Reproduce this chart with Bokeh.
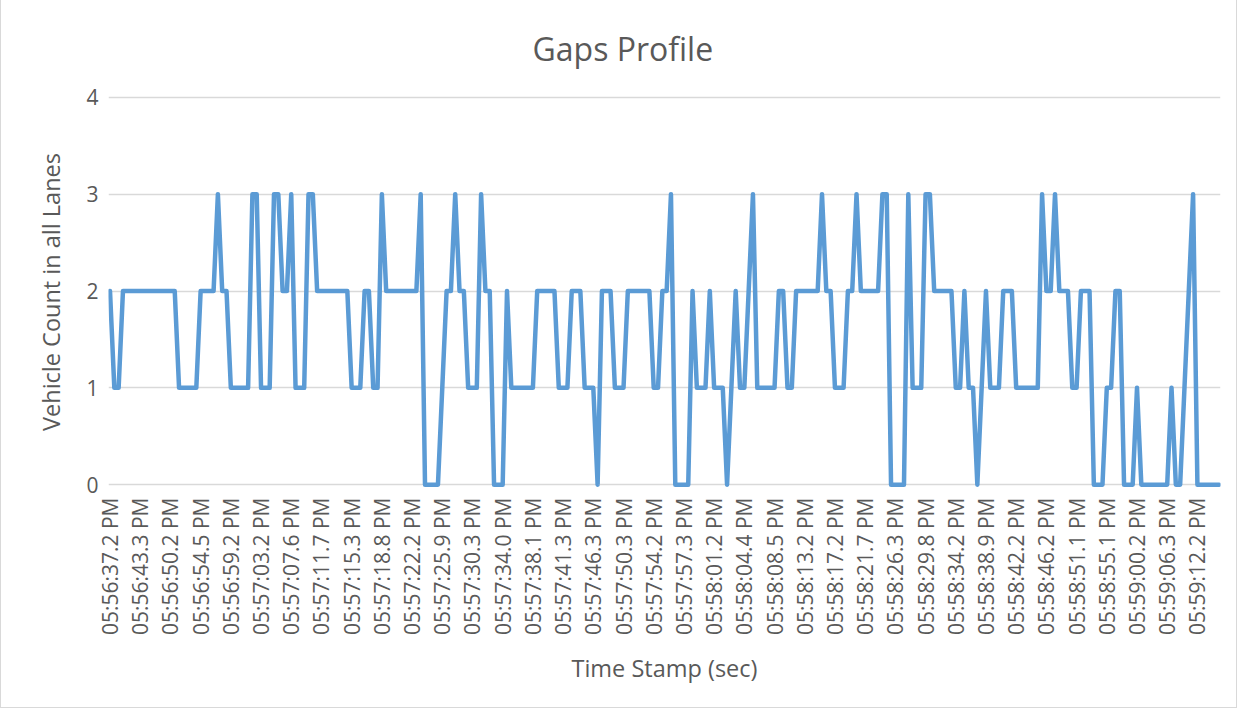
import math
from bokeh.plotting import figure
from bokeh.models import Range1d, FixedTicker
from bokeh.embed import file_html
from bokeh.resources import INLINE

tick_labels = [
    "05:56:37.2 PM", "05:56:43.3 PM", "05:56:50.2 PM", "05:56:54.5 PM", "05:56:59.2 PM",
    "05:57:03.2 PM", "05:57:07.6 PM", "05:57:11.7 PM", "05:57:15.3 PM", "05:57:18.8 PM",
    "05:57:22.2 PM", "05:57:25.9 PM", "05:57:30.3 PM", "05:57:34.0 PM", "05:57:38.1 PM",
    "05:57:41.3 PM", "05:57:46.3 PM", "05:57:50.3 PM", "05:57:54.2 PM", "05:57:57.3 PM",
    "05:58:01.2 PM", "05:58:04.4 PM", "05:58:08.5 PM", "05:58:13.2 PM", "05:58:17.2 PM",
    "05:58:21.7 PM", "05:58:26.3 PM", "05:58:29.8 PM", "05:58:34.2 PM", "05:58:38.9 PM",
    "05:58:42.2 PM", "05:58:46.2 PM", "05:58:51.1 PM", "05:58:55.1 PM", "05:59:00.2 PM",
    "05:59:06.3 PM", "05:59:12.2 PM",
]
label_every = 7

vehicle_counts = [
    2, 1, 1, 2, 2, 2, 2, 2, 2, 2,
    2, 2, 2, 2, 2, 2, 1, 1, 1, 1,
    1, 2, 2, 2, 2, 3, 2, 2, 1, 1,
    1, 1, 1, 3, 3, 1, 1, 1, 3, 3,
    2, 2, 3, 1, 1, 1, 3, 3, 2, 2,
    2, 2, 2, 2, 2, 2, 1, 1, 1, 2,
    2, 1, 1, 3, 2, 2, 2, 2, 2, 2,
    2, 2, 3, 0, 0, 0, 0, 1, 2, 2,
    3, 2, 2, 1, 1, 1, 3, 2, 2, 0,
    0, 0, 2, 1, 1, 1, 1, 1, 1, 2,
    2, 2, 2, 2, 1, 1, 1, 2, 2, 2,
    1, 1, 1, 0, 2, 2, 2, 1, 1, 1,
    2, 2, 2, 2, 2, 2, 1, 1, 2, 2,
    3, 0, 0, 0, 0, 2, 1, 1, 1, 2,
    1, 1, 1, 0, 1, 2, 1, 1, 2, 3,
    1, 1, 1, 1, 1, 2, 2, 1, 1, 2,
    2, 2, 2, 2, 2, 3, 2, 2, 1, 1,
    1, 2, 2, 3, 2, 2, 2, 2, 2, 3,
    3, 0, 0, 0, 0, 3, 1, 1, 1, 3,
    3, 2, 2, 2, 2, 2, 1, 1, 2, 1,
    1, 0, 1, 2, 1, 1, 1, 2, 2, 2,
    1, 1, 1, 1, 1, 1, 3, 2, 2, 3,
    2, 2, 2, 1, 1, 2, 2, 2, 0, 0,
    0, 1, 1, 2, 2, 0, 0, 0, 1, 0,
    0, 0, 0, 0, 0, 0, 1, 0, 0, 1,
    2, 3, 0, 0, 0, 0, 0, 0,
]

y_ticks = [0, 1, 2, 3, 4]
chart_title = "Gaps Profile"

x_index = list(range(len(vehicle_counts)))
tick_positions = [i * label_every for i in range(len(tick_labels))]

TEXT = "#595959"
GRID = "#D9D9D9"
FONT = "Open Sans"

p = figure(
    width=1237, height=711,
    x_range=Range1d(-0.35, len(vehicle_counts) - 1 + 0.35),
    y_range=Range1d(-0.05, 4.03),
    output_backend="svg", toolbar_location=None,
    min_border_left=107, min_border_right=18,
    min_border_top=96, min_border_bottom=220,
    title=chart_title,
)
p.styles = {"border": "1px solid #D9D9D9", "margin-top": "-3px"}
p.outline_line_color = None
p.background_fill_color = "white"
p.border_fill_color = "white"

p.title.align = "left"
p.title.text_font = FONT
p.title.text_font_size = "32px"
p.title.text_font_style = "normal"
p.title.text_color = TEXT
p.title.standoff = 50
p.title.offset = 424

p.line(x_index, vehicle_counts, line_color="#5B9BD5", line_width=4.5,
       line_join="round", line_cap="round")

# x axis
xa = p.xaxis[0]
xa.ticker = FixedTicker(ticks=tick_positions)
xa.major_label_overrides = {pos: lab for pos, lab in zip(tick_positions, tick_labels)}
xa.major_label_orientation = math.pi / 2
xa.major_label_text_font = FONT
xa.major_label_text_font_size = "21px"
xa.major_label_text_color = TEXT
xa.major_label_standoff = 8
xa.axis_line_color = None
xa.major_tick_line_color = None
xa.minor_tick_line_color = None
xa.major_tick_out = 0
xa.major_tick_in = 0
xa.axis_label = "Time Stamp (sec)"
xa.axis_label_text_font = FONT
xa.axis_label_text_font_size = "23.5px"
xa.axis_label_text_font_style = "normal"
xa.axis_label_text_color = TEXT
xa.axis_label_standoff = 14

# y axis
ya = p.yaxis[0]
ya.ticker = FixedTicker(ticks=y_ticks)
ya.major_label_text_font = FONT
ya.major_label_text_font_size = "21px"
ya.major_label_text_color = TEXT
ya.major_label_standoff = 10
ya.axis_line_color = None
ya.major_tick_line_color = None
ya.minor_tick_line_color = None
ya.major_tick_out = 0
ya.major_tick_in = 0
ya.axis_label = "Vehicle Count in all Lanes"
ya.axis_label_text_font = FONT
ya.axis_label_text_font_size = "23.5px"
ya.axis_label_text_font_style = "normal"
ya.axis_label_text_color = TEXT
ya.axis_label_standoff = 16

p.xgrid.grid_line_color = None
p.ygrid.ticker = FixedTicker(ticks=y_ticks)
p.ygrid.grid_line_color = GRID
p.ygrid.grid_line_width = 1.3

open("out.html", "w").write(file_html(p, INLINE))
